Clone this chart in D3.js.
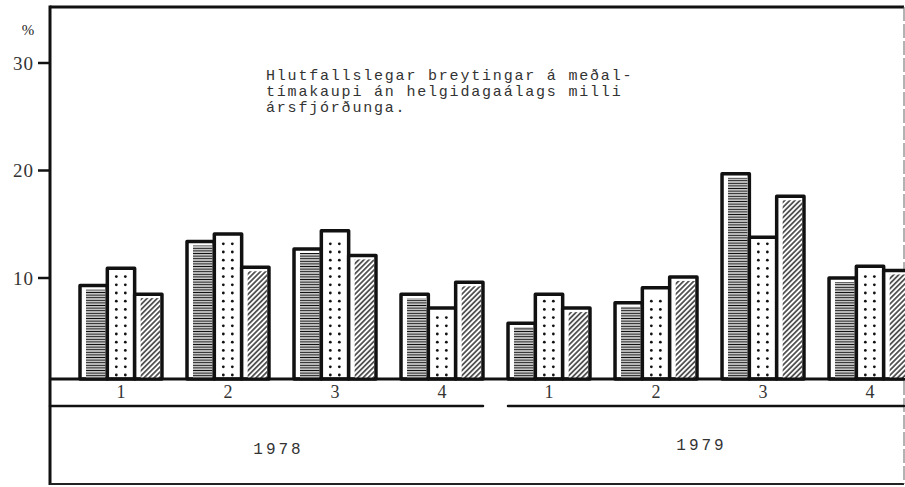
<!DOCTYPE html>
<html>
<head>
<meta charset="utf-8">
<script src="https://cdn.jsdelivr.net/npm/d3@7"></script>
<style>
  html, body { margin: 0; padding: 0; background: #fff; }
  svg { display: block; }
</style>
</head>
<body>
<svg id="chart" width="905" height="487"></svg>
<script>
// ---- data ----
const years = ["1978", "1979"];
const quarters = ["1", "2", "3", "4"];
const groups = ["1978-1", "1978-2", "1978-3", "1978-4", "1979-1", "1979-2", "1979-3", "1979-4"];
const seriesNames = ["a", "b", "c"]; // horizontal lines, dots, diagonal hatch
const seriesA = [9.3, 13.4, 12.7, 8.5, 5.8, 7.7, 19.7, 10.0];
const seriesB = [10.9, 14.1, 14.4, 7.2, 8.5, 9.1, 13.8, 11.1];
const seriesC = [8.5, 11.0, 12.1, 9.6, 7.2, 10.1, 17.6, 10.7];
const yTicks = [10, 20, 30];
const titleLines = [
  "Hlutfallslegar breytingar á meðal-",
  "tímakaupi án helgidagaálags milli",
  "ársfjórðunga."
];
const unitLabel = "%";

// ---- layout ----
const svg = d3.select("#chart");
const frame = { left: 50, top: 7, right: 904, bottom: 484 };
const baseY = 379;

const y = d3.scaleLinear().domain([0, 30]).range([385.5, 63]);
const x = d3.scaleBand().domain(groups).range([80, 911]).paddingInner(0.234).paddingOuter(0);
const xs = d3.scaleBand().domain(seriesNames).range([0, x.bandwidth()]).padding(0);

const data = [];
groups.forEach((g, i) => {
  data.push({ g, s: "a", v: seriesA[i] });
  data.push({ g, s: "b", v: seriesB[i] });
  data.push({ g, s: "c", v: seriesC[i] });
});

// ---- patterns ----
const defs = svg.append("defs");
const ph = defs.append("pattern").attr("id", "hlines").attr("patternUnits", "userSpaceOnUse")
  .attr("width", 6).attr("height", 2.6);
ph.append("rect").attr("width", 6).attr("height", 2.6).attr("fill", "#fff");
ph.append("line").attr("x1", 0).attr("x2", 6).attr("y1", 1.3).attr("y2", 1.3)
  .attr("stroke", "#111").attr("stroke-width", 1.3);

const pd = defs.append("pattern").attr("id", "diag").attr("patternUnits", "userSpaceOnUse")
  .attr("width", 3.6).attr("height", 3.6).attr("patternTransform", "rotate(45)");
pd.append("rect").attr("width", 3.6).attr("height", 3.6).attr("fill", "#fff");
pd.append("line").attr("x1", 1.8).attr("x2", 1.8).attr("y1", 0).attr("y2", 3.6)
  .attr("stroke", "#111").attr("stroke-width", 1.3);

// ---- frame ----
svg.append("line").attr("x1", frame.left).attr("x2", frame.right).attr("y1", frame.top).attr("y2", frame.top)
  .attr("stroke", "#111").attr("stroke-width", 3);
svg.append("line").attr("x1", frame.left).attr("x2", frame.left).attr("y1", frame.top - 1.5).attr("y2", frame.bottom + 1)
  .attr("stroke", "#111").attr("stroke-width", 3);
svg.append("line").attr("x1", frame.left).attr("x2", frame.right).attr("y1", frame.bottom).attr("y2", frame.bottom)
  .attr("stroke", "#222").attr("stroke-width", 2);
svg.append("line").attr("x1", frame.right).attr("x2", frame.right).attr("y1", frame.top).attr("y2", frame.bottom)
  .attr("stroke", "#666").attr("stroke-width", 1).attr("stroke-dasharray", "14,3");

// ---- y axis ticks ----
const yt = svg.append("g");
yTicks.forEach(t => {
  yt.append("line").attr("x1", 38).attr("x2", frame.left).attr("y1", y(t)).attr("y2", y(t))
    .attr("stroke", "#111").attr("stroke-width", 2.5);
  yt.append("text").attr("x", 34).attr("y", y(t)).attr("dy", "0.35em").attr("text-anchor", "end")
    .attr("font-family", "Liberation Serif, serif").attr("font-size", 19).attr("letter-spacing", 1)
    .attr("fill", "#333").text(t);
});
svg.append("text").attr("x", 28).attr("y", 35).attr("text-anchor", "middle")
  .attr("font-family", "Liberation Serif, serif").attr("font-size", 15).attr("fill", "#222")
  .text(unitLabel);

// ---- title ----
const tt = svg.append("text").attr("font-family", "Liberation Mono, monospace").attr("font-size", 15)
  .attr("letter-spacing", 1.8).attr("fill", "#333");
titleLines.forEach((l, i) => {
  tt.append("tspan").attr("x", 266).attr("y", 80 + i * 16).text(l);
});

// ---- bars ----
const bars = svg.append("g");
const sw = 3.5;
data.forEach(d => {
  const bx = x(d.g) + xs(d.s);
  const bw = xs.bandwidth();
  const by = y(d.v);
  const bh = baseY - by;
  const g = bars.append("g");
  g.append("rect").attr("x", bx).attr("y", by).attr("width", bw).attr("height", bh)
    .attr("fill", "#fff").attr("stroke", "#111").attr("stroke-width", sw).attr("stroke-linejoin", "round");
  if (d.s === "a" || d.s === "c") {
    g.append("rect").attr("x", bx + 6).attr("y", by + 4).attr("width", Math.max(0, bw - 8))
      .attr("height", Math.max(0, bh - 5))
      .attr("fill", d.s === "a" ? "url(#hlines)" : "url(#diag)");
  } else {
    const rows = d3.range(baseY - 4, by + 6, -8.2);
    rows.forEach(ry => {
      [9, 18].forEach(off => {
        g.append("circle").attr("cx", bx + off).attr("cy", ry).attr("r", 1.4).attr("fill", "#111");
      });
    });
  }
});

// ---- baseline ----
svg.append("line").attr("x1", frame.left).attr("x2", frame.right).attr("y1", baseY).attr("y2", baseY)
  .attr("stroke", "#111").attr("stroke-width", 3);

// ---- quarter labels ----
groups.forEach((g, i) => {
  svg.append("text").attr("x", x(g) + x.bandwidth() / 2).attr("y", 398).attr("text-anchor", "middle")
    .attr("font-family", "Liberation Serif, serif").attr("font-size", 18).attr("fill", "#333")
    .text(quarters[i % 4]);
});

// ---- year underlines ----
const yr1End = x(groups[3]) + x.bandwidth();
const yr2Start = x(groups[4]);
svg.append("line").attr("x1", frame.left).attr("x2", yr1End).attr("y1", 406).attr("y2", 406)
  .attr("stroke", "#111").attr("stroke-width", 2.5).attr("stroke-linecap", "round");
svg.append("line").attr("x1", yr2Start).attr("x2", frame.right).attr("y1", 406).attr("y2", 406)
  .attr("stroke", "#111").attr("stroke-width", 2.5).attr("stroke-linecap", "round");

// ---- year labels ----
const yearCenters = [
  (x(groups[0]) + x(groups[3]) + x.bandwidth()) / 2 - 3,
  (x(groups[4]) + x(groups[7]) + x.bandwidth()) / 2 - 8
];
years.forEach((yr, i) => {
  svg.append("text").attr("x", yearCenters[i]).attr("y", i === 0 ? 454 : 450).attr("text-anchor", "middle")
    .attr("font-family", "Liberation Mono, monospace").attr("font-size", 16).attr("letter-spacing", 3)
    .attr("fill", "#333").text(yr);
});
</script>
</body>
</html>
